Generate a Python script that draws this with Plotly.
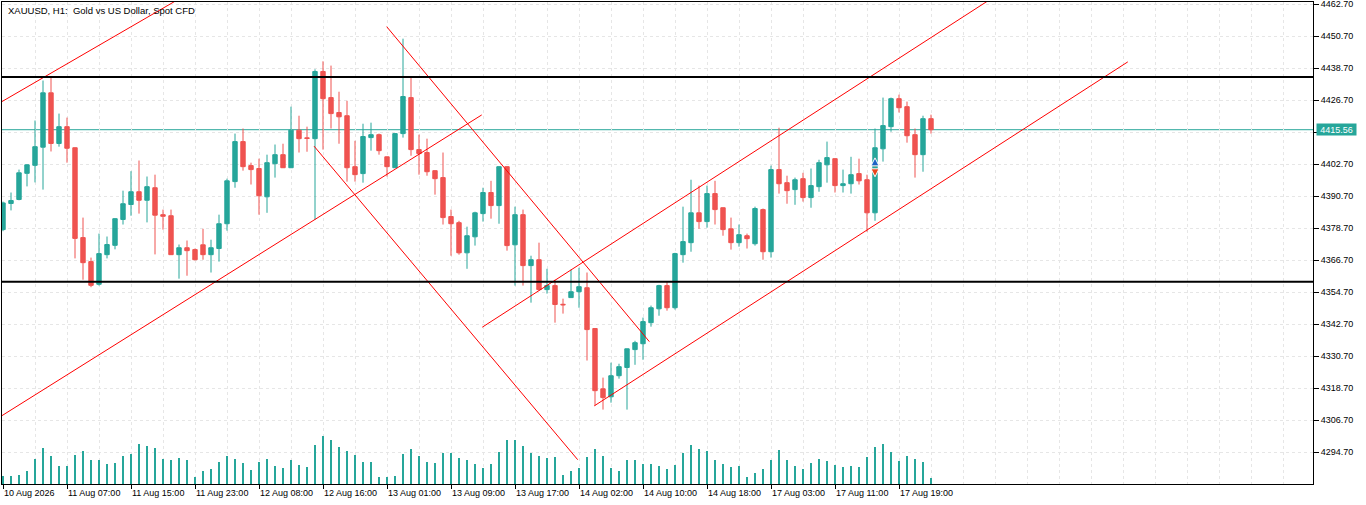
"""
XAUUSD H1 candlestick chart (MT5 style) with tick volumes,
support/resistance levels and hand drawn trend channels.
"""
import plotly.graph_objects as go

# ---- data ----
tick_labels = [
    "10 Aug 2026", "11 Aug 07:00", "11 Aug 15:00", "11 Aug 23:00",
    "12 Aug 08:00", "12 Aug 16:00", "13 Aug 01:00", "13 Aug 09:00",
    "13 Aug 17:00", "14 Aug 02:00", "14 Aug 10:00", "14 Aug 18:00",
    "17 Aug 03:00", "17 Aug 11:00", "17 Aug 19:00",
]
tick_bars = [0, 8, 16, 24, 32, 40, 48, 56, 64, 72, 80, 88, 96, 104, 112]
price_ticks = [4294.7, 4306.7, 4318.7, 4330.7, 4342.7, 4354.7, 4366.7, 4378.7,
               4390.7, 4402.7, 4414.7, 4426.7, 4438.7, 4450.7, 4462.7]
# the 4414.70 label is covered by the last price tag
price_tick_text = ["4294.70", "4306.70", "4318.70", "4330.70", "4342.70",
                   "4354.70", "4366.70", "4378.70", "4390.70", "4402.70", "",
                   "4426.70", "4438.70", "4450.70", "4462.70"]

open_ = [
    4378.1, 4387.9, 4389.4, 4399.2, 4402.2, 4409.0, 4429.4, 4410.4, 4416.7, 4408.8,
    4375.1, 4366.1, 4357.6, 4368.7, 4372.2, 4381.9, 4387.5, 4392.3, 4389.1, 4393.8,
    4383.7, 4383.3, 4368.7, 4371.3, 4370.6, 4372.4, 4368.7, 4371.0, 4380.3, 4396.1,
    4411.1, 4402.1, 4401.0, 4390.4, 4402.8, 4406.2, 4401.3, 4415.4, 4412.5, 4412.2,
    4437.4, 4427.6, 4422.0, 4420.8, 4401.7, 4399.1, 4412.6, 4413.7, 4405.4, 4401.3,
    4414.1, 4427.6, 4408.1, 4407.0, 4400.2, 4397.6, 4383.0, 4380.7, 4369.4, 4375.4,
    4384.1, 4392.0, 4387.1, 4401.7, 4372.4, 4383.7, 4364.6, 4366.8, 4355.6, 4357.1,
    4350.1, 4352.6, 4354.8, 4356.3, 4341.0, 4318.4, 4315.4, 4323.3, 4326.4, 4333.1,
    4335.3, 4343.2, 4348.4, 4357.1, 4348.8, 4368.7, 4373.2, 4384.4, 4381.1, 4391.6,
    4386.3, 4378.4, 4373.2, 4375.8, 4372.8, 4385.6, 4369.8, 4400.6, 4395.7, 4393.1,
    4397.2, 4390.1, 4394.2, 4402.4, 4404.7, 4394.6, 4395.3, 4399.1, 4396.8, 4384.4,
    4408.4, 4416.7, 4427.2, 4424.2, 4413.7, 4406.2, 4419.7,
]
high = [
    4388.6, 4392.0, 4400.6, 4402.6, 4419.0, 4434.0, 4435.2, 4421.6, 4420.1, 4408.9,
    4382.6, 4367.6, 4376.6, 4375.5, 4382.4, 4392.7, 4400.0, 4404.0, 4398.0, 4398.7,
    4385.6, 4385.6, 4372.5, 4374.0, 4371.0, 4378.4, 4374.3, 4383.7, 4397.2, 4414.1,
    4416.0, 4403.2, 4404.7, 4406.2, 4410.0, 4410.3, 4424.2, 4420.8, 4416.7, 4438.2,
    4441.2, 4439.6, 4429.8, 4426.4, 4411.4, 4417.8, 4418.2, 4414.1, 4405.5, 4414.2,
    4449.7, 4435.1, 4413.7, 4412.2, 4400.3, 4407.0, 4385.6, 4381.4, 4379.2, 4384.8,
    4393.8, 4396.4, 4401.8, 4401.8, 4386.7, 4385.6, 4368.3, 4373.2, 4363.4, 4359.3,
    4352.2, 4363.1, 4363.8, 4362.0, 4341.1, 4322.6, 4328.2, 4327.8, 4333.5, 4336.4,
    4345.1, 4349.6, 4357.4, 4358.6, 4369.4, 4386.7, 4396.8, 4394.6, 4394.6, 4396.4,
    4386.4, 4382.6, 4380.0, 4376.6, 4386.7, 4386.0, 4402.1, 4416.3, 4398.3, 4397.6,
    4399.4, 4401.0, 4404.3, 4411.1, 4404.8, 4400.6, 4405.4, 4404.7, 4398.7, 4416.0,
    4427.6, 4427.6, 4428.7, 4426.1, 4416.0, 4420.8, 4421.2,
]
low = [
    4377.5, 4385.3, 4389.1, 4394.3, 4395.8, 4393.1, 4407.4, 4409.2, 4403.2, 4367.3,
    4359.3, 4356.5, 4357.1, 4367.3, 4370.7, 4380.0, 4383.3, 4384.1, 4380.8, 4368.8,
    4378.1, 4368.6, 4359.7, 4360.8, 4366.6, 4366.8, 4362.0, 4366.1, 4377.7, 4393.8,
    4400.2, 4395.0, 4383.7, 4384.4, 4397.6, 4401.2, 4401.2, 4407.0, 4407.3, 4381.8,
    4408.1, 4416.0, 4410.3, 4396.1, 4396.1, 4395.7, 4407.7, 4406.2, 4398.0, 4401.2,
    4412.6, 4405.8, 4398.7, 4398.3, 4391.2, 4380.0, 4368.3, 4368.7, 4363.4, 4372.1,
    4381.1, 4382.2, 4380.3, 4370.2, 4357.1, 4357.1, 4350.7, 4355.2, 4354.1, 4343.2,
    4346.6, 4352.5, 4348.8, 4329.0, 4312.1, 4310.6, 4313.2, 4322.2, 4310.6, 4327.4,
    4329.3, 4341.7, 4345.8, 4347.7, 4348.1, 4365.7, 4369.8, 4378.4, 4378.8, 4380.0,
    4375.8, 4370.6, 4371.7, 4371.0, 4372.1, 4366.8, 4367.6, 4391.6, 4387.8, 4387.4,
    4388.6, 4386.3, 4392.3, 4395.7, 4392.0, 4392.0, 4391.6, 4395.0, 4377.3, 4381.4,
    4403.6, 4414.8, 4422.0, 4410.7, 4397.6, 4399.8, 4414.1,
]
close = [
    4388.1, 4389.0, 4399.4, 4402.4, 4409.2, 4429.4, 4410.4, 4416.7, 4408.6, 4374.8,
    4365.7, 4357.2, 4369.1, 4372.5, 4382.2, 4387.8, 4392.3, 4389.1, 4394.2, 4383.5,
    4383.1, 4368.7, 4371.3, 4370.2, 4366.8, 4368.7, 4371.3, 4380.3, 4396.4, 4411.1,
    4401.7, 4400.6, 4390.8, 4403.2, 4406.2, 4401.3, 4415.4, 4412.2, 4412.3, 4437.4,
    4427.2, 4421.6, 4420.4, 4401.3, 4398.7, 4413.0, 4413.7, 4407.7, 4401.7, 4414.1,
    4428.0, 4408.1, 4406.6, 4399.8, 4397.2, 4382.6, 4380.3, 4369.4, 4375.8, 4384.4,
    4392.0, 4387.1, 4401.7, 4372.1, 4383.7, 4364.6, 4366.8, 4355.6, 4357.1, 4350.0,
    4349.9, 4354.8, 4356.7, 4340.6, 4317.7, 4315.1, 4323.3, 4326.7, 4333.4, 4335.7,
    4343.6, 4348.8, 4357.1, 4348.8, 4369.1, 4373.6, 4384.4, 4381.1, 4391.6, 4385.6,
    4378.1, 4373.2, 4376.2, 4374.7, 4386.0, 4369.8, 4400.6, 4395.3, 4392.7, 4396.8,
    4390.1, 4394.6, 4403.2, 4405.1, 4394.6, 4395.3, 4398.7, 4396.4, 4384.4, 4408.8,
    4417.1, 4427.2, 4423.8, 4413.3, 4406.2, 4419.7, 4415.56,
]
tick_volume = [
    2400, 2400, 2700, 3900, 7500, 10800, 8400, 5400, 5400, 8700,
    9900, 7200, 7200, 6000, 6300, 8400, 9000, 12000, 11400, 10800,
    7500, 7200, 7800, 7200, 2100, 3900, 4500, 6600, 8400, 7500,
    6300, 4200, 6600, 7500, 5400, 4800, 7200, 5700, 5100, 11700,
    14400, 13200, 11100, 9900, 8700, 6600, 6600, 2100, 2100, 2400,
    9000, 10500, 8400, 6600, 6300, 9300, 9300, 7800, 7200, 6000,
    4800, 6000, 9600, 13200, 13200, 11400, 9300, 8400, 7800, 8100,
    2700, 3900, 4800, 8100, 10500, 8400, 4800, 3900, 7200, 7200,
    6000, 6000, 5400, 4500, 5700, 9300, 11700, 10500, 9900, 7200,
    6000, 5100, 5400, 2100, 3300, 4500, 7200, 10200, 7200, 5400,
    4500, 6300, 7500, 6900, 5700, 5100, 5400, 5100, 8100, 11100,
    12000, 9600, 6900, 8400, 7500, 6600, 1800,
]

current_price = 4415.56
resistance = 4435.3
support = 4358.5

# trend lines as (bar, price) anchor pairs
trend_lines = [
    [(-1, 4424.6), (22, 4464.6)],
    [(-1, 4306.7), (59.84, 4421.1)],
    [(47.96, 4454.2), (80.79, 4336.1)],
    [(38.88, 4409.4), (71.84, 4291.8)],
    [(59.91, 4341.5), (124, 4465.6)],
    [(73.91, 4312.0), (140.6, 4441.0)],
]

# trade markers on the 17 Aug 09:00 bar
trade_bar = 109
buy_price = 4405.0
exit_price = 4397.9

GREEN = "#26A69A"
RED = "#EF5350"
GRID = "#E6E6E6"
bars = list(range(len(close)))

fig = go.Figure()

# volumes, drawn under the candles on a hidden overlay axis
fig.add_trace(go.Bar(
    x=bars, y=tick_volume, width=0.14,
    marker=dict(color=GREEN, line=dict(width=0)),
    yaxis="y2", hoverinfo="skip",
))

for (x0, y0), (x1, y1) in trend_lines:
    fig.add_trace(go.Scatter(
        x=[x0, x1], y=[y0, y1], mode="lines",
        line=dict(color="#FF0000", width=1), hoverinfo="skip",
    ))

for level in (resistance, support):
    fig.add_hline(y=level, line=dict(color="black", width=2))
# last price line sits behind the candles
fig.add_hline(y=current_price, line=dict(color=GREEN, width=1), layer="below")

fig.add_trace(go.Candlestick(
    x=bars, open=open_, high=high, low=low, close=close,
    increasing=dict(line=dict(color=GREEN, width=1), fillcolor=GREEN),
    decreasing=dict(line=dict(color=RED, width=1), fillcolor=RED),
    whiskerwidth=0,
))

# trade arrows
fig.add_trace(go.Scatter(
    x=[trade_bar, trade_bar], y=[buy_price, exit_price], mode="lines",
    line=dict(color="#E53935", width=1, dash="dot"), hoverinfo="skip",
))
fig.add_trace(go.Scatter(
    x=[trade_bar], y=[buy_price], mode="markers",
    marker=dict(symbol="arrow-up", size=8, color="#1E63C4",
                line=dict(color="white", width=1)),
))
fig.add_trace(go.Scatter(
    x=[trade_bar], y=[exit_price], mode="markers",
    marker=dict(symbol="arrow-down", size=8, color="#E8461E",
                line=dict(color="white", width=1)),
))

minor_bars = [b for b in range(4, 164, 4) if b not in tick_bars]

fig.update_layout(
    width=1366, height=505,
    margin=dict(l=2, r=53, t=2, b=21),
    plot_bgcolor="white", paper_bgcolor="white",
    showlegend=False,
    boxgap=0.45, boxgroupgap=0,
    font=dict(family="Liberation Sans", size=9, color="black"),
    xaxis=dict(
        range=[-0.125, 163.75], automargin=False,
        tickmode="array", tickvals=tick_bars, ticktext=tick_labels,
        ticks="outside", ticklen=4, tickcolor="black",
        ticklabelposition="outside right",
        showgrid=True, gridcolor=GRID, griddash="3px,3px",
        minor=dict(tickvals=minor_bars, showgrid=True, gridcolor=GRID,
                   griddash="3px,3px", ticks=""),
        showline=True, linecolor="black", linewidth=1, mirror=True,
        zeroline=False, rangeslider=dict(visible=False),
    ),
    yaxis=dict(
        range=[4282.7, 4463.45], side="right", automargin=False,
        tickmode="array", tickvals=price_ticks, ticktext=price_tick_text,
        ticks="outside", ticklen=5, tickcolor="black",
        ticklabeloverflow="allow",
        showgrid=True, gridcolor=GRID, griddash="3px,3px",
        showline=True, linecolor="black", linewidth=1, mirror=True,
        zeroline=False,
    ),
    yaxis2=dict(range=[0, 144600], overlaying="y", visible=False),
)

fig.add_annotation(
    text="XAUUSD, H1:  Gold vs US Dollar, Spot CFD",
    xref="paper", yref="paper", x=0, y=1, xanchor="left", yanchor="top",
    xshift=4, yshift=-1, showarrow=False,
    font=dict(family="Liberation Sans", size=9.5, color="black"),
)
fig.add_annotation(
    text=f"{current_price:.2f}",
    xref="paper", yref="y", x=1, y=current_price, xanchor="left",
    xshift=3, showarrow=False, width=39, height=11, borderpad=0,
    bgcolor=GREEN, font=dict(family="Liberation Sans", size=9, color="white"),
)

# the page body has an 8px default margin; drop it so the chart sits at 0,0
fig.write_html(
    "out.html",
    config={"displayModeBar": False},
    post_script="document.body.style.margin='0px';",
)
